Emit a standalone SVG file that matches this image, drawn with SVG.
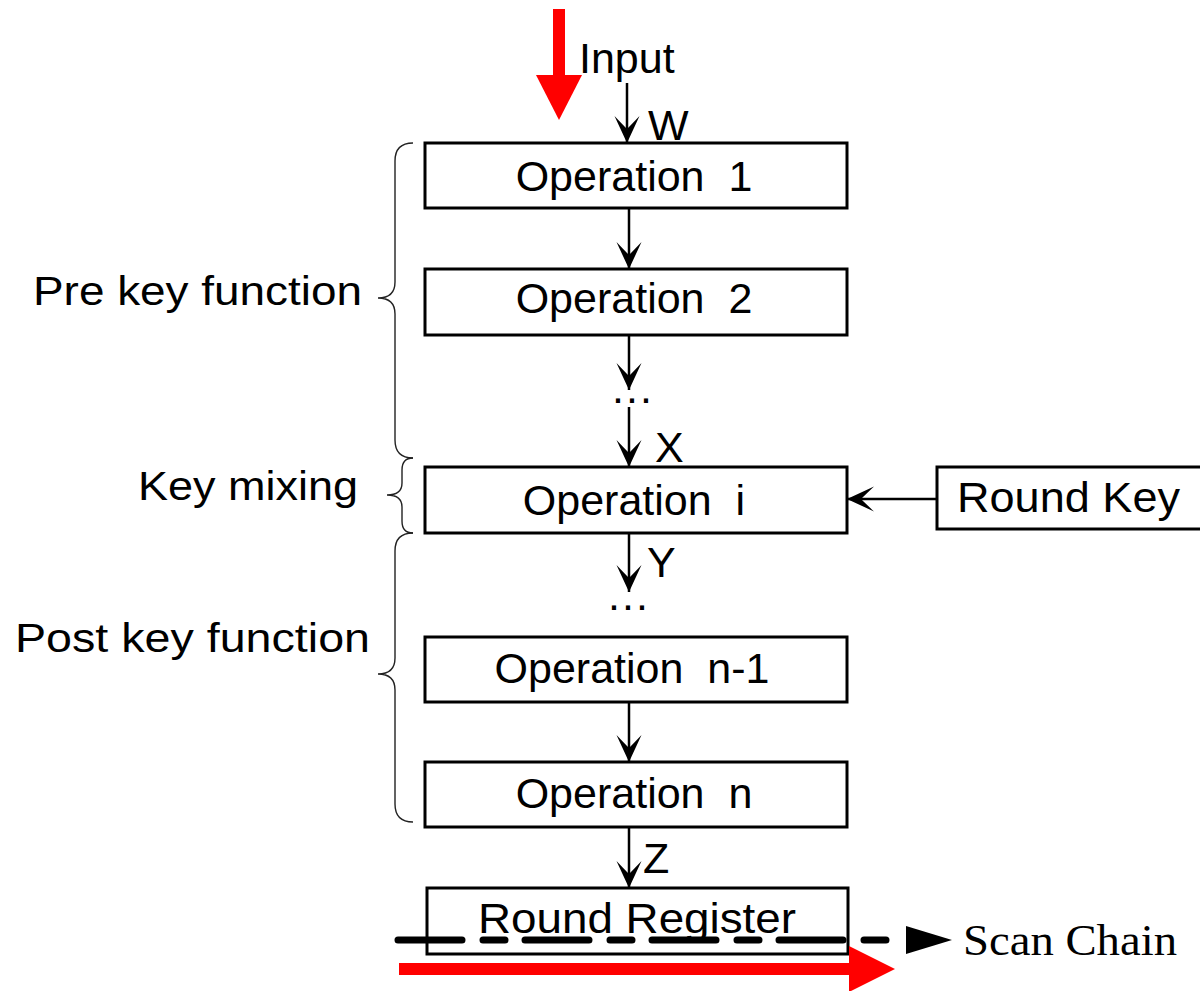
<svg xmlns="http://www.w3.org/2000/svg" width="1200" height="991" viewBox="0 0 1200 991">
  <style>
    .box { fill: #ffffff; stroke: #000000; stroke-width: 3; }
    .lbl { font-family: "Liberation Sans", Arial, sans-serif; font-size: 43px; fill: #000000; }
    .side { font-family: "Liberation Sans", Arial, sans-serif; font-size: 40px; fill: #000000; }
    .mid { text-anchor: middle; }
    .dots { letter-spacing: 2px; }
    .wire { fill: none; stroke: #000000; stroke-width: 2.5; }
    .brace { fill: none; stroke: #222222; stroke-width: 1.4; }
    .red { fill: #ff0000; stroke: none; }
  </style>
  <defs>
    <marker id="stealth" viewBox="-28 -14 30 28" refX="0" refY="0" markerWidth="30" markerHeight="28" markerUnits="userSpaceOnUse" orient="auto">
      <path d="M0,0 L-27,-12.5 Q-17,-3 -14,0 Q-17,3 -27,12.5 Z" fill="#000000"/>
    </marker>
  </defs>

  <rect width="1200" height="991" fill="#ffffff"/>

  <!-- stage brackets and their captions -->
  <g id="pre-key">
    <path class="brace" d="M413,143 Q395,143 395,161 L395,282 Q395,298 378,298 Q395,298 395,314 L395,440 Q395,458 413,458"/>
    <text class="side" x="33" y="305" textLength="329" lengthAdjust="spacingAndGlyphs">Pre key function</text>
  </g>
  <g id="key-mixing">
    <path class="brace" d="M413,458 Q402,458 402,470 L402,483 Q402,495 387,495 Q402,495 402,507 L402,521 Q402,533 413,533"/>
    <text class="side" x="138" y="500" textLength="220" lengthAdjust="spacingAndGlyphs">Key mixing</text>
  </g>
  <g id="post-key">
    <path class="brace" d="M413,533 Q395,533 395,551 L395,658 Q395,674 378,674 Q395,674 395,690 L395,804 Q395,822 413,822"/>
    <text class="side" x="15" y="652" textLength="355" lengthAdjust="spacingAndGlyphs">Post key function</text>
  </g>

  <!-- connectors -->
  <g id="connectors">
    <line class="wire" x1="627" y1="83" x2="627" y2="143" marker-end="url(#stealth)"/>
    <line class="wire" x1="629" y1="208" x2="629" y2="269" marker-end="url(#stealth)"/>
    <line class="wire" x1="629" y1="335" x2="629" y2="390" marker-end="url(#stealth)"/>
    <line class="wire" x1="629" y1="407" x2="629" y2="467" marker-end="url(#stealth)"/>
    <line class="wire" x1="629" y1="533" x2="629" y2="592" marker-end="url(#stealth)"/>
    <line class="wire" x1="629" y1="702" x2="629" y2="762" marker-end="url(#stealth)"/>
    <line class="wire" x1="629" y1="827" x2="629" y2="888" marker-end="url(#stealth)"/>
    <line class="wire" x1="937" y1="499" x2="847" y2="499" marker-end="url(#stealth)"/>
  </g>

  <!-- input -->
  <g id="input">
    <rect class="red" x="553" y="9" width="12" height="67"/>
    <polygon class="red" points="536,75 582,75 559,120"/>
    <text class="lbl" x="579" y="73">Input</text>
    <text class="lbl" x="648" y="140">W</text>
  </g>

  <g id="op1">
    <rect class="box" x="425" y="143" width="422" height="65"/>
    <text class="lbl mid" x="634" y="191" xml:space="preserve">Operation  1</text>
  </g>
  <g id="op2">
    <rect class="box" x="425" y="269" width="422" height="66"/>
    <text class="lbl mid" x="634" y="313" xml:space="preserve">Operation  2</text>
  </g>
  <text class="lbl dots" x="612" y="403">...</text>
  <text class="lbl" x="655" y="462">X</text>

  <g id="opi">
    <rect class="box" x="425" y="467" width="422" height="66"/>
    <text class="lbl mid" x="634" y="515" xml:space="preserve">Operation  i</text>
  </g>
  <g id="round-key">
    <rect class="box" x="937" y="467" width="280" height="62"/>
    <text class="lbl" x="957" y="512" textLength="223" lengthAdjust="spacingAndGlyphs">Round Key</text>
  </g>
  <text class="lbl" x="647" y="577">Y</text>
  <text class="lbl dots" x="608" y="610">...</text>

  <g id="op-n1">
    <rect class="box" x="425" y="637" width="422" height="65"/>
    <text class="lbl mid" x="632" y="683" xml:space="preserve">Operation  n-1</text>
  </g>
  <g id="op-n">
    <rect class="box" x="425" y="762" width="422" height="65"/>
    <text class="lbl mid" x="634" y="808" xml:space="preserve">Operation  n</text>
  </g>
  <text class="lbl" x="643" y="873">Z</text>

  <g id="round-register">
    <rect class="box" x="427" y="888" width="421" height="66"/>
    <text class="lbl" x="478" y="933" textLength="318" lengthAdjust="spacingAndGlyphs">Round Register</text>
  </g>

  <!-- scan chain path through the register -->
  <g id="scan-chain">
    <line x1="398" y1="940" x2="900" y2="940" stroke="#000000" stroke-width="7" stroke-linecap="round" stroke-dasharray="64 21 22 20"/>
    <polygon points="906,926 952,940 906,954" fill="#000000"/>
    <text x="963" y="955" font-family="'Liberation Serif', 'Times New Roman', serif" font-size="45" textLength="214" lengthAdjust="spacingAndGlyphs">Scan Chain</text>
  </g>
  <g id="scan-out">
    <rect class="red" x="399" y="963" width="451" height="12"/>
    <polygon class="red" points="849,946 895,969 849,992"/>
  </g>
</svg>
